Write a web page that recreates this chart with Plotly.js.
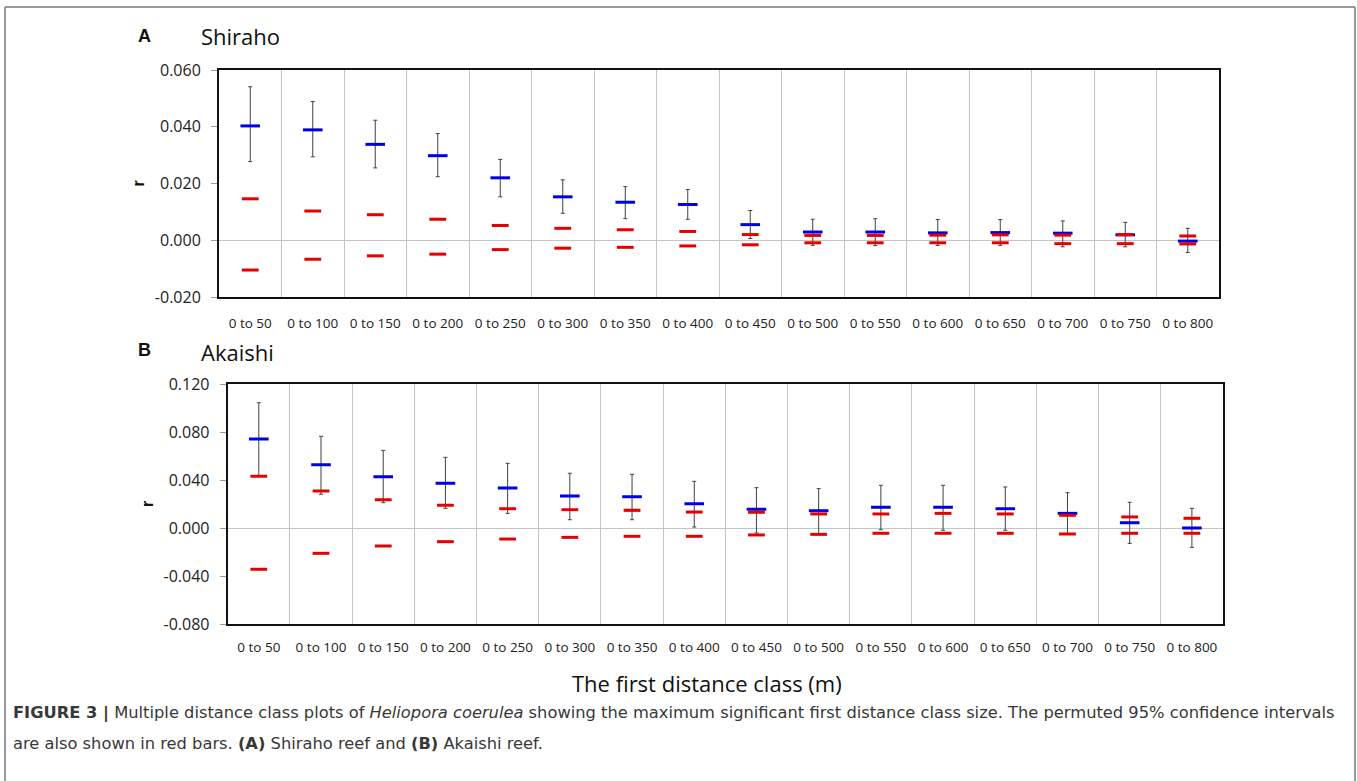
<!DOCTYPE html>
<html>
<head>
<meta charset="utf-8">
<script src="https://cdn.plot.ly/plotly-3.0.1.min.js"></script>
<style>
html,body{margin:0;padding:0;background:#fff;}
#chart{width:1357px;height:781px;}
</style>
</head>
<body>
<div id="chart"></div>
<script>
// ---------- data ----------
const categories = ["0 to 50","0 to 100","0 to 150","0 to 200","0 to 250","0 to 300","0 to 350","0 to 400",
                    "0 to 450","0 to 500","0 to 550","0 to 600","0 to 650","0 to 700","0 to 750","0 to 800"];

// Panel A: Shiraho
const shirahoR    = [0.0403,0.0389,0.0338,0.0298,0.0220,0.0153,0.0134,0.0126,0.0055,0.0029,0.0029,0.0026,0.0027,0.0025,0.0019,-0.0003];
const shirahoHi   = [0.0541,0.0489,0.0423,0.0376,0.0285,0.0213,0.0189,0.0179,0.0105,0.0074,0.0076,0.0073,0.0073,0.0068,0.0063,0.0042];
const shirahoLo   = [0.0277,0.0294,0.0255,0.0224,0.0153,0.0095,0.0076,0.0074,0.0006,-0.0018,-0.0019,-0.0018,-0.0018,-0.0023,-0.0023,-0.0043];
const shirahoUCI  = [0.0146,0.0103,0.0090,0.0074,0.0052,0.0042,0.0037,0.0031,0.0020,0.0017,0.0017,0.0018,0.0019,0.0018,0.0020,0.0015];
const shirahoLCI  = [-0.0105,-0.0067,-0.0055,-0.0049,-0.0033,-0.0028,-0.0025,-0.0020,-0.0016,-0.0009,-0.0009,-0.0009,-0.0009,-0.0012,-0.0012,-0.0013];

// Panel B: Akaishi
const akaishiR    = [0.0742,0.0528,0.0428,0.0372,0.0333,0.0267,0.0261,0.0203,0.0156,0.0144,0.0172,0.0172,0.0161,0.0122,0.0044,0.0000];
const akaishiHi   = [0.1044,0.0764,0.0647,0.0589,0.0539,0.0456,0.0447,0.0389,0.0336,0.0328,0.0356,0.0356,0.0342,0.0294,0.0214,0.0164];
const akaishiLo   = [0.0435,0.0281,0.0211,0.0164,0.0122,0.0069,0.0069,0.0008,-0.0042,-0.0053,-0.0014,-0.0019,-0.0019,-0.0050,-0.0128,-0.0161];
const akaishiUCI  = [0.0431,0.0308,0.0236,0.0189,0.0161,0.0153,0.0147,0.0133,0.0131,0.0117,0.0117,0.0122,0.0117,0.0106,0.0092,0.0081];
const akaishiLCI  = [-0.0344,-0.0211,-0.0150,-0.0114,-0.0092,-0.0078,-0.0069,-0.0069,-0.0058,-0.0053,-0.0044,-0.0044,-0.0044,-0.0050,-0.0044,-0.0044];

const yTickValsA = [-0.02,0,0.02,0.04,0.06];
const yTickTextA = ["-0.020","0.000","0.020","0.040","0.060"];
const yTickValsB = [-0.08,-0.04,0,0.04,0.08,0.12];
const yTickTextB = ["-0.080","-0.040","0.000","0.040","0.080","0.120"];

// ---------- layout helpers ----------
const W = 1357, H = 781;
const px = v => v / W;
const py = v => 1 - v / H;

const BLUE = '#0000e6', RED = '#e60000', ERR = '#404040';
const FONT = 'Open Sans, Noto Sans, sans-serif';
const CAPFONT = 'DejaVu Sans, Liberation Sans, sans-serif';

function panel(r, hi, lo, uci, lci, xa, ya) {
  return [
    {
      x: categories, y: r, xaxis: xa, yaxis: ya, type: 'scatter', mode: 'markers',
      marker: {symbol: 'line-ew', size: 14, color: BLUE, line: {width: 3, color: BLUE}},
      error_y: {type: 'data', symmetric: false,
        array: hi.map((h, i) => h - r[i]),
        arrayminus: lo.map((l, i) => r[i] - l),
        color: ERR, thickness: 1, width: 2},
      hoverinfo: 'x+y'
    },
    {
      x: categories, y: uci, xaxis: xa, yaxis: ya, type: 'scatter', mode: 'markers',
      marker: {symbol: 'line-ew', size: 12, color: RED, line: {width: 3, color: RED}},
      hoverinfo: 'x+y'
    },
    {
      x: categories, y: lci, xaxis: xa, yaxis: ya, type: 'scatter', mode: 'markers',
      marker: {symbol: 'line-ew', size: 12, color: RED, line: {width: 3, color: RED}},
      hoverinfo: 'x+y'
    }
  ];
}

const data = [].concat(
  panel(shirahoR, shirahoHi, shirahoLo, shirahoUCI, shirahoLCI, 'x', 'y'),
  panel(akaishiR, akaishiHi, akaishiLo, akaishiUCI, akaishiLCI, 'x2', 'y2')
);

function xaxisDef(d0, d1, anchor, standoff) {
  return {
    domain: [px(d0), px(d1)], anchor: anchor, type: 'category',
    categoryorder: 'array', categoryarray: categories,
    range: [-0.5, 15.5], tickson: 'boundaries',
    showgrid: true, gridcolor: '#c4c4c4', gridwidth: 1,
    ticks: '', showline: true, mirror: true, linecolor: '#111', linewidth: 2,
    tickfont: {family: FONT, size: 13.5, color: '#222'},
    ticklabelstandoff: standoff, fixedrange: true
  };
}
function yaxisDef(top, bottom, anchor, range, tv, tt) {
  return {
    domain: [py(bottom), py(top)], anchor: anchor, range: range,
    tickmode: 'array', tickvals: tv, ticktext: tt,
    showgrid: false, zeroline: true, zerolinecolor: '#c4c4c4', zerolinewidth: 1,
    ticks: 'outside', ticklen: 6, tickcolor: '#9a9a9a', tickwidth: 1,
    showline: true, mirror: true, linecolor: '#111', linewidth: 2,
    tickfont: {family: FONT, size: 16, color: '#222'},
    ticklabelstandoff: 7,
    title: {text: '<b>r</b>', font: {family: 'Liberation Sans, Arial, sans-serif', size: 16, color: '#111'}, standoff: 6},
    fixedrange: true
  };
}

const layout = {
  width: W, height: H,
  margin: {l: 0, r: 0, t: 0, b: 0},
  paper_bgcolor: '#fff', plot_bgcolor: '#fff',
  showlegend: false,
  xaxis: xaxisDef(219, 1219, 'y', 13),
  yaxis: yaxisDef(70, 297, 'x', [-0.02, 0.06], yTickValsA, yTickTextA),
  xaxis2: xaxisDef(227.7, 1223, 'y2', 10),
  yaxis2: yaxisDef(384, 624, 'x2', [-0.08, 0.12], yTickValsB, yTickTextB),
  shapes: [
    {type: 'line', xref: 'paper', yref: 'paper', x0: px(5), x1: px(1355), y0: py(7), y1: py(7), line: {color: '#777', width: 1.5}},
    {type: 'line', xref: 'paper', yref: 'paper', x0: px(5), x1: px(5), y0: py(7), y1: py(800), line: {color: '#777', width: 1.5}},
    {type: 'line', xref: 'paper', yref: 'paper', x0: px(1355), x1: px(1355), y0: py(7), y1: py(800), line: {color: '#777', width: 1.5}}
  ],
  annotations: [
    {text: '<b>A</b>', xref: 'paper', yref: 'paper', x: px(136), y: py(36), xanchor: 'left', yanchor: 'middle', showarrow: false,
     font: {family: 'Liberation Sans, Arial, sans-serif', size: 18, color: '#111'}},
    {text: 'Shiraho', xref: 'paper', yref: 'paper', x: px(199), y: py(36), xanchor: 'left', yanchor: 'middle', showarrow: false,
     font: {family: FONT, size: 22, color: '#111'}},
    {text: '<b>B</b>', xref: 'paper', yref: 'paper', x: px(136), y: py(350), xanchor: 'left', yanchor: 'middle', showarrow: false,
     font: {family: 'Liberation Sans, Arial, sans-serif', size: 18, color: '#111'}},
    {text: 'Akaishi', xref: 'paper', yref: 'paper', x: px(199), y: py(352), xanchor: 'left', yanchor: 'middle', showarrow: false,
     font: {family: FONT, size: 22, color: '#111'}},
    {text: 'The first distance class (m)', xref: 'paper', yref: 'paper', x: px(707), y: py(683), xanchor: 'center', yanchor: 'middle', showarrow: false,
     font: {family: FONT, size: 22, color: '#111'}},
    {text: '<b>FIGURE 3 |</b> Multiple distance class plots of <i>Heliopora coerulea</i> showing the maximum significant first distance class size. The permuted 95% confidence intervals',
     xref: 'paper', yref: 'paper', x: px(11), y: py(713), xanchor: 'left', yanchor: 'middle', showarrow: false, align: 'left',
     font: {family: CAPFONT, size: 16.3, color: '#383838'}},
    {text: 'are also shown in red bars. <b>(A)</b> Shiraho reef and <b>(B)</b> Akaishi reef.',
     xref: 'paper', yref: 'paper', x: px(11), y: py(743), xanchor: 'left', yanchor: 'middle', showarrow: false, align: 'left',
     font: {family: CAPFONT, size: 16.3, color: '#383838'}}
  ]
};

Plotly.newPlot('chart', data, layout, {displayModeBar: false, staticPlot: true});
</script>
</body>
</html>
